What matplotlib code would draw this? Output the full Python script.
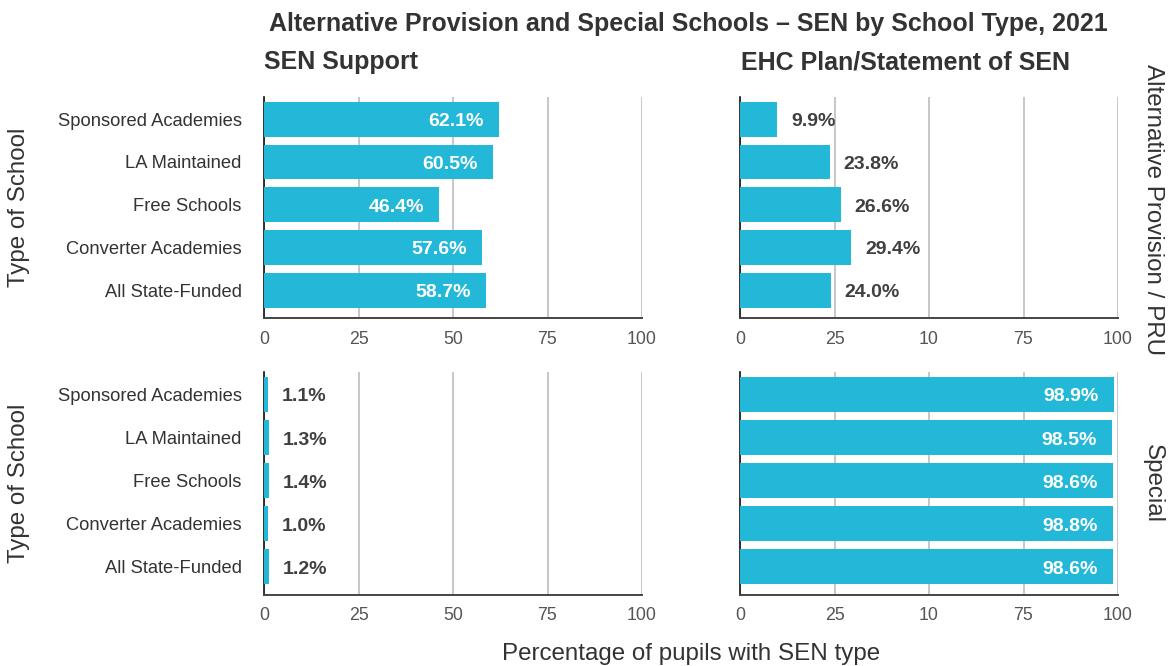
import matplotlib.pyplot as plt

plt.rcParams["font.family"] = ["Liberation Sans", "DejaVu Sans"]

SCHOOL_TYPES = [
    "Sponsored Academies",
    "LA Maintained",
    "Free Schools",
    "Converter Academies",
    "All State-Funded",
]
AP_SEN_SUPPORT = [62.1, 60.5, 46.4, 57.6, 58.7]
AP_EHC_PLAN = [9.9, 23.8, 26.6, 29.4, 24.0]
SPECIAL_SEN_SUPPORT = [1.1, 1.3, 1.4, 1.0, 1.2]
SPECIAL_EHC_PLAN = [98.9, 98.5, 98.6, 98.8, 98.6]

TICKS = [0, 25, 50, 75, 100]
LEFT_TICK_LABELS = ["0", "25", "50", "75", "100"]
RIGHT_TICK_LABELS = ["0", "25", "10", "75", "100"]

ROW_TITLES = ["Alternative Provision / PRU", "Special"]
COL_TITLES = ["SEN Support", "EHC Plan/Statement of SEN"]

BAR_COLOR = "#23b8d8"
TEXT_COLOR = "#333333"
W, H = 1168, 666


def px_axes(fig, left, top, right, bottom):
    return fig.add_axes([left / W, 1 - bottom / H, (right - left) / W, (bottom - top) / H])


def draw_panel(ax, values, tick_labels, show_categories):
    y = list(range(len(SCHOOL_TYPES)))
    ax.barh(y, values, height=0.81, color=BAR_COLOR, zorder=3)
    ax.set_xlim(0, 100)
    ax.set_ylim(4.65, -0.52)
    ax.set_xticks(TICKS)
    ax.set_xticklabels(tick_labels)
    ax.set_yticks(y)
    if show_categories:
        ax.set_yticklabels(SCHOOL_TYPES, fontsize=13.2, color=TEXT_COLOR)
    else:
        ax.set_yticklabels([])
    ax.tick_params(axis="x", length=0, pad=9, labelsize=12.8, labelcolor="#555555")
    ax.tick_params(axis="y", length=0, pad=16)
    ax.grid(axis="x", color="#bdbdbd", linewidth=1.2, zorder=0)
    for side in ("top", "right"):
        ax.spines[side].set_visible(False)
    ax.spines["left"].set_color("#111111")
    ax.spines["left"].set_linewidth(1.2)
    ax.spines["bottom"].set_color("#444444")
    ax.spines["bottom"].set_linewidth(1.4)
    ax.set_axisbelow(True)

    # value labels: white inside long bars, dark grey beside short ones
    for yi, v in zip(y, values):
        label = f"{v:.1f}%"
        if v > 40:
            ax.annotate(label, (v, yi), xytext=(-11, -1.8), textcoords="offset points",
                        ha="right", va="center", color="white",
                        fontsize=14, fontweight="bold", zorder=4)
        else:
            ax.annotate(label, (v, yi), xytext=(10, -1.8), textcoords="offset points",
                        ha="left", va="center", color="#404040",
                        fontsize=14, fontweight="bold", zorder=4)


fig = plt.figure(figsize=(W / 100, H / 100), dpi=100)

ax_tl = px_axes(fig, 264, 97, 642, 318)
ax_tr = px_axes(fig, 740, 97, 1118, 318)
ax_bl = px_axes(fig, 264, 372, 642, 595)
ax_br = px_axes(fig, 740, 372, 1118, 595)

draw_panel(ax_tl, AP_SEN_SUPPORT, LEFT_TICK_LABELS, True)
draw_panel(ax_tr, AP_EHC_PLAN, RIGHT_TICK_LABELS, False)
draw_panel(ax_bl, SPECIAL_SEN_SUPPORT, LEFT_TICK_LABELS, True)
draw_panel(ax_br, SPECIAL_EHC_PLAN, RIGHT_TICK_LABELS, False)

# titles
fig.text(688 / W, 1 - 24 / H, "Alternative Provision and Special Schools \u2013 SEN by School Type, 2021",
         ha="center", va="center", fontsize=18, fontweight="bold", color=TEXT_COLOR)
fig.text(264 / W, 1 - 62 / H, COL_TITLES[0], ha="left", va="center",
         fontsize=18, fontweight="bold", color=TEXT_COLOR)
fig.text(741 / W, 1 - 62 / H, COL_TITLES[1], ha="left", va="center",
         fontsize=18, fontweight="bold", color=TEXT_COLOR)

# row labels on the right
fig.text(1153 / W, 1 - 210 / H, ROW_TITLES[0], rotation=-90, ha="center", va="center",
         fontsize=17.4, color=TEXT_COLOR)
fig.text(1153 / W, 1 - 483 / H, ROW_TITLES[1], rotation=-90, ha="center", va="center",
         fontsize=17.4, color=TEXT_COLOR)

# shared axis labels
for yc in (207, 483):
    fig.text(19 / W, 1 - yc / H, "Type of School", rotation=90, ha="center", va="center",
             fontsize=17.4, color=TEXT_COLOR)
fig.text(691 / W, 1 - 654 / H, "Percentage of pupils with SEN type", ha="center", va="center",
         fontsize=17.4, color=TEXT_COLOR)

fig.savefig("out.png", dpi=100)
